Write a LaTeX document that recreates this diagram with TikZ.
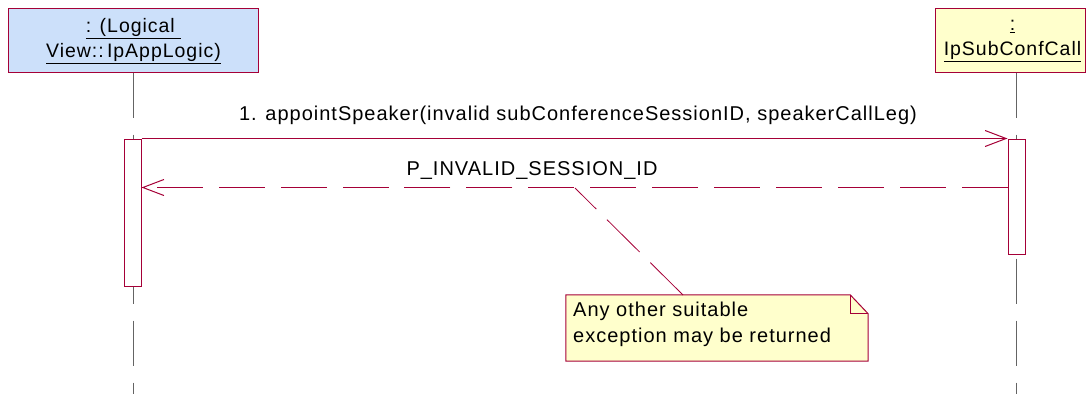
\documentclass[tikz,border=0pt]{standalone}
\usepackage{fontspec}
\setmainfont{Liberation Sans}[LetterSpace=5]
\usetikzlibrary{arrows.meta}
\definecolor{frame}{RGB}{165,0,55}
\definecolor{lifegray}{RGB}{100,100,100}
\definecolor{blueF}{RGB}{204,224,250}
\definecolor{yellowF}{RGB}{255,255,204}
\tikzset{
  objbox/.style={draw=frame, line width=1pt, inner sep=0pt},
  objtext/.style={align=center, inner sep=0pt, font=\fontsize{19.5}{25.5}\selectfont},
  lifeline/.style={draw=lifegray, line width=1pt, dash pattern=on 45pt off 17pt},
  actbox/.style={draw=frame, fill=white, line width=1pt, minimum width=17pt, inner sep=0pt},
  msg/.style={draw=frame, line width=1pt, -{Straight Barb[length=21pt,width=16pt,line width=1pt]}},
  ret/.style={draw=frame, line width=1pt, dash pattern=on 46pt off 15.9pt,
    -{Straight Barb[length=21pt,width=16pt,line width=1pt]}},
  notelink/.style={draw=frame, line width=0.8pt, dash pattern=on 46pt off 15pt},
  lbl/.style={font=\fontsize{20}{24}\selectfont, inner sep=0pt},
  notetext/.style={font=\fontsize{20}{26}\selectfont, align=left, inner sep=0pt, anchor=north west}
}
\begin{document}
\begin{tikzpicture}[x=1pt,y=-1pt]
\useasboundingbox (0,0) rectangle (1090,394);
% objects
\node[objbox, fill=blueF, minimum width=250pt, minimum height=64pt] (A) at (133,40) {};
\node[objtext] (Atext) at (133.5,41)
  {\underline{: (Logical\ }\\\underline{View::\,IpAppLogic)}};
\node[objbox, fill=yellowF, minimum width=150pt, minimum height=64pt] (B) at (1010,40) {};
\node[objtext] (Btext) at (1012.5,41)
  {\underline{:}\\\underline{IpSubConfCall}};
% lifelines
\coordinate (Aend) at (133,394);
\coordinate (Bend) at (1016.5,394);
\draw[lifeline] (A.south -| Aend) -- (Aend);
\draw[lifeline] (B.south -| Bend) -- (Bend);
% activations
\node[actbox, minimum height=147pt] (actL) at (132.5,212.5) {};
\node[actbox, minimum height=115pt] (actR) at (1016.5,196.5) {};
% message 1
\draw[msg] (actL.north east) -- (actR.north west);
\node[lbl] (m1) at (578,115) {1. appointSpeaker(invalid subConferenceSessionID, speakerCallLeg)};
% return
\path (actR.north west) ++(0,49) coordinate (r1);
\path (actL.north east) ++(0,49) coordinate (r2);
\draw[ret] (r1) -- (r2);
\node[lbl] (m2) at (532,171) {P\_INVALID\_SESSION\_ID};
% note
\node[minimum width=302pt, minimum height=66pt, inner sep=0pt] (note) at (717,328) {};
\fill[yellowF] (note.north west) -- ([xshift=-18pt]note.north east) -- ([yshift=-19pt]note.north east)
  -- (note.south east) -- (note.south west) -- cycle;
\draw[frame, line width=1pt] (note.north west) -- ([xshift=-18pt]note.north east) -- ([yshift=-19pt]note.north east)
  -- (note.south east) -- (note.south west) -- cycle;
\draw[frame, line width=1pt] ([xshift=-18pt]note.north east) |- ([yshift=-19pt]note.north east);
\node[notetext] (nt) at (573,302) {Any other suitable\\exception may be returned};
\coordinate (n1) at (683,295);
\coordinate (n2) at (575,188);
\draw[notelink] (n1) -- (n2);
\end{tikzpicture}
\end{document}
